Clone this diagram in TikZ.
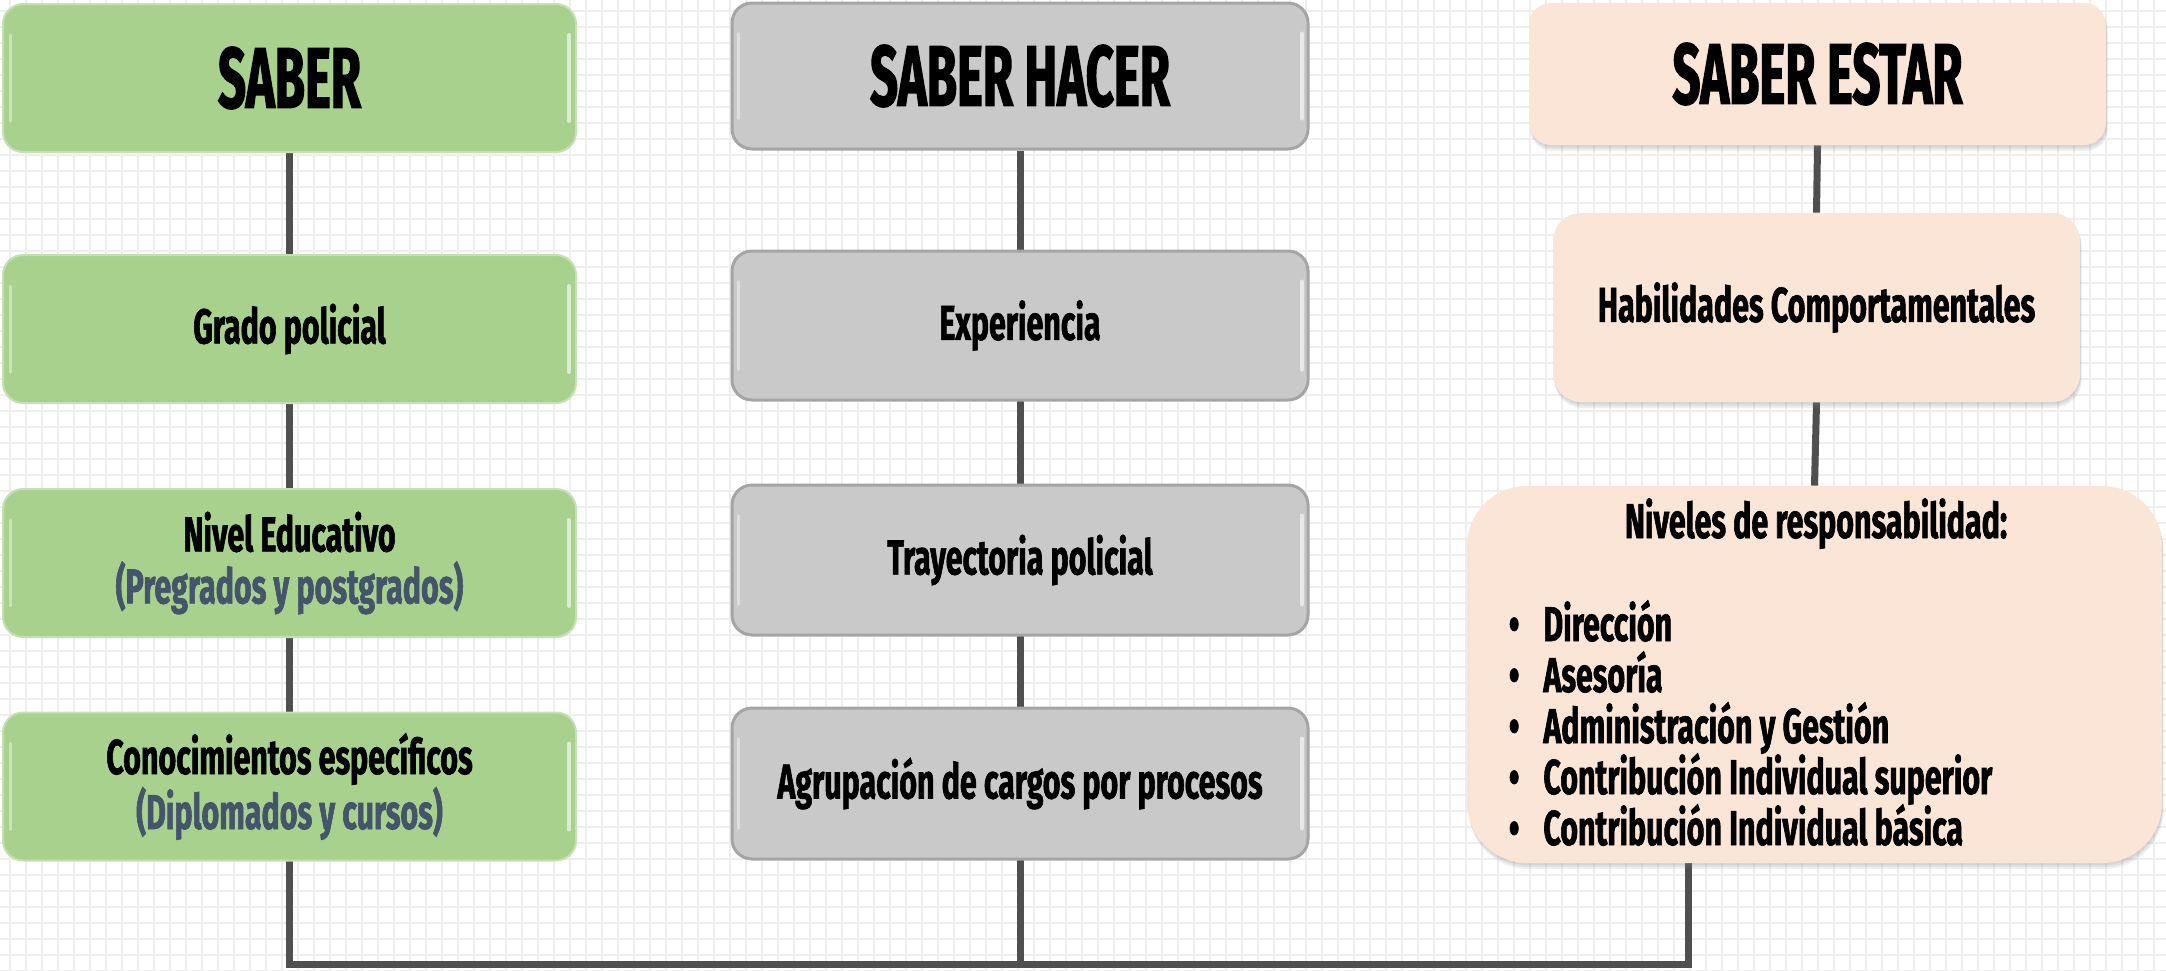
\documentclass[tikz,border=0pt]{standalone}
\usepackage{fontspec}
\setmainfont{Fira Sans}[FakeStretch=0.62]
\newfontfamily\bodyfam{Fira Sans}[FakeStretch=0.62, BoldFeatures={FakeBold=1.2}]
\newfontfamily\titlefam{Fira Sans}[FakeStretch=0.57, BoldFeatures={FakeBold=1.5}]
\usetikzlibrary{shadows}
\definecolor{grn}{HTML}{A9D18E}
\definecolor{grnb}{HTML}{C5E0B4}
\definecolor{gry}{HTML}{C9C9C9}
\definecolor{gryb}{HTML}{A5A5A5}
\definecolor{pch}{HTML}{FBE5D6}
\definecolor{lnc}{HTML}{4F4F4F}
\definecolor{gridc}{HTML}{EEEEEE}
\definecolor{txtb}{HTML}{44546A}
\newcommand\bodyf{\bodyfam\fontsize{24.5}{26}\selectfont\bfseries}
\newcommand\titlef{\titlefam\fontsize{43}{48}\selectfont\bfseries}
\newcommand\gloss[1]{%
  \draw[white, opacity=.6, line width=2pt, line cap=round]
    ([xshift=-4pt,yshift=-16pt]#1.north east) -- ([xshift=-4pt,yshift=16pt]#1.south east);
  \draw[white, opacity=.4, line width=1.5pt, line cap=round]
    ([xshift=4pt,yshift=-16pt]#1.north west) -- ([xshift=4pt,yshift=16pt]#1.south west);
}
\pgfdeclarelayer{gridlayer}
\pgfdeclarelayer{linelayer}
\pgfsetlayers{gridlayer,linelayer,main}
\begin{document}
\begin{tikzpicture}[x=0.5pt,y=-0.5pt,
  box/.style={rounded corners=10pt, align=center, inner sep=0pt, font=\bodyf},
  sz/.style 2 args={minimum width=#1*0.5pt, minimum height=#2*0.5pt},
  greenbox/.style={box, fill=grn, draw=grnb, line width=1pt},
  greybox/.style={box, fill=gry, draw=gryb, line width=1.5pt},
  peachbox/.style={box, fill=pch,
    drop shadow={shadow xshift=0.4pt, shadow yshift=-1pt, opacity=.12},
    drop shadow={shadow xshift=0.6pt, shadow yshift=-2pt, opacity=.12},
    drop shadow={shadow xshift=0.8pt, shadow yshift=-3pt, opacity=.12}},
  titletext/.style={font=\titlef},
  conn/.style={lnc, line width=3.5pt, line join=miter},
  item/.style={anchor=base west, inner sep=0pt, font=\bodyf},
]
\useasboundingbox (0,0) rectangle (2166,970);
\begin{pgfonlayer}{gridlayer}
  \fill[white] (0,0) rectangle (2166,970);
  \foreach \i in {0,...,135} \draw[gridc, line width=0.7pt] ({10+16*\i},0) -- ({10+16*\i},970);
  \foreach \j in {0,...,60} \draw[gridc, line width=0.7pt] (0,{11+16*\j}) -- (2166,{11+16*\j});
\end{pgfonlayer}

% SABER column
\node[greenbox, sz={573}{148}, titletext] (saber) at (289.5,78) {SABER};
\node[greenbox, sz={573}{148}] (g1) at (289.5,329) {Grado policial};
\node[greenbox, sz={573}{148}] (g2) at (289.5,563) {Nivel Educativo\\{\color{txtb}(Pregrados y postgrados)}};
\node[greenbox, sz={573}{148}] (g3) at (289.5,786.5) {Conocimientos específicos\\{\color{txtb}(Diplomados y cursos)}};
\gloss{saber}\gloss{g1}\gloss{g2}\gloss{g3}

% SABER HACER column
\node[greybox, sz={576}{146}, titletext] (hacer) at (1020,76) {SABER HACER};
\node[greybox, sz={576}{149}] (h1) at (1020,325.5) {Experiencia};
\node[greybox, sz={576}{150}] (h2) at (1020,560) {Trayectoria policial};
\node[greybox, sz={576}{151}] (h3) at (1020,783.5) {Agrupación de cargos por procesos};
\gloss{hacer}\gloss{h1}\gloss{h2}\gloss{h3}

% SABER ESTAR column
\node[peachbox, sz={577}{142}, rounded corners=11pt, titletext] (estar) at (1817.5,74) {SABER ESTAR};
\node[peachbox, sz={527}{189}, rounded corners=14pt] (e1) at (1816.5,307.5) {Habilidades Comportamentales};
\node[peachbox, sz={695}{377}, rounded corners=30pt] (e2) at (1814.5,674.5) {};
\node[anchor=base, inner sep=0pt, font=\bodyf] (e2t) at (1816,538) {Niveles de responsabilidad:};
\node[item] (b1) at (1543,641) {\llap{\textbullet\hspace{12pt}}Dirección};
\node[item] (b2) at (1543,692) {\llap{\textbullet\hspace{12pt}}Asesoría};
\node[item] (b3) at (1543,743) {\llap{\textbullet\hspace{12pt}}Administración y Gestión};
\node[item] (b4) at (1543,794) {\llap{\textbullet\hspace{12pt}}Contribución Individual superior};
\node[item] (b5) at (1543,845) {\llap{\textbullet\hspace{12pt}}Contribución Individual básica};

% connectors
\coordinate (br) at (1688,964);
\begin{pgfonlayer}{linelayer}
  \draw[conn] (saber.south) -- (saber.south |- br) -- (br) -- (br |- e2.south);
  \draw[conn] (hacer.south) -- (hacer.south |- br);
  \draw[conn] (estar.south) -- (e1.north);
  \draw[conn] (e1.south) -- (e2.north);
\end{pgfonlayer}
\end{tikzpicture}
\end{document}
